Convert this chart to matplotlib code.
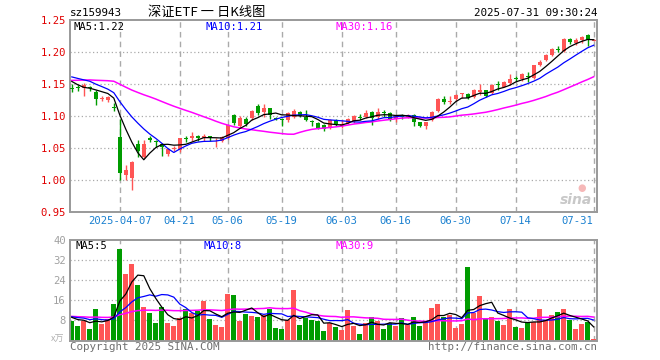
import matplotlib
matplotlib.use("Agg")
import matplotlib.pyplot as plt
import numpy as np
import pandas as pd

# ---------------- data ----------------
holidays = ["2025-04-04", "2025-05-01", "2025-05-02", "2025-05-05", "2025-06-02"]
dates = [d for d in pd.bdate_range("2025-03-25", "2025-07-31") if d.strftime("%Y-%m-%d") not in holidays]

open_ = [1.143, 1.146, 1.144, 1.145, 1.138, 1.127, 1.125, 1.114, 1.067, 1.008,
         1.003, 1.057, 1.036, 1.065, 1.060, 1.056, 1.040, 1.049, 1.047, 1.065,
         1.066, 1.068, 1.065, 1.068, 1.062, 1.061, 1.066, 1.102, 1.084, 1.096,
         1.097, 1.115, 1.107, 1.112, 1.097, 1.096, 1.093, 1.099, 1.106, 1.099,
         1.092, 1.089, 1.086, 1.081, 1.093, 1.085, 1.089, 1.092, 1.099, 1.099,
         1.106, 1.098, 1.106, 1.105, 1.095, 1.101, 1.098, 1.102, 1.090, 1.085,
         1.094, 1.108, 1.127, 1.122, 1.127, 1.134, 1.135, 1.130, 1.137, 1.140,
         1.136, 1.150, 1.146, 1.152, 1.160, 1.158, 1.163, 1.160, 1.180, 1.188,
         1.196, 1.205, 1.201, 1.221, 1.214, 1.219, 1.227, 1.218]
high = [1.150, 1.148, 1.151, 1.147, 1.140, 1.131, 1.132, 1.121, 1.095, 1.023,
        1.030, 1.063, 1.063, 1.068, 1.062, 1.058, 1.050, 1.053, 1.066, 1.068,
        1.075, 1.071, 1.072, 1.069, 1.065, 1.068, 1.087, 1.103, 1.100, 1.098,
        1.109, 1.118, 1.119, 1.113, 1.098, 1.097, 1.107, 1.111, 1.108, 1.110,
        1.093, 1.090, 1.088, 1.095, 1.095, 1.094, 1.097, 1.101, 1.103, 1.109,
        1.108, 1.112, 1.109, 1.107, 1.101, 1.103, 1.103, 1.103, 1.091, 1.091,
        1.108, 1.128, 1.131, 1.131, 1.134, 1.136, 1.136, 1.142, 1.150, 1.141,
        1.150, 1.155, 1.155, 1.166, 1.162, 1.167, 1.168, 1.180, 1.188, 1.197,
        1.206, 1.209, 1.222, 1.222, 1.222, 1.225, 1.228, 1.220]
low = [1.137, 1.139, 1.131, 1.139, 1.117, 1.124, 1.122, 1.108, 1.000, 1.000,
       0.984, 1.036, 1.034, 1.060, 1.052, 1.037, 1.038, 1.046, 1.043, 1.060,
       1.061, 1.061, 1.061, 1.061, 1.052, 1.059, 1.064, 1.086, 1.082, 1.085,
       1.094, 1.102, 1.099, 1.095, 1.093, 1.085, 1.091, 1.097, 1.099, 1.092,
       1.084, 1.080, 1.076, 1.079, 1.085, 1.081, 1.087, 1.089, 1.094, 1.097,
       1.086, 1.096, 1.099, 1.092, 1.091, 1.096, 1.097, 1.085, 1.083, 1.079,
       1.092, 1.106, 1.118, 1.118, 1.123, 1.128, 1.126, 1.128, 1.133, 1.129,
       1.134, 1.141, 1.145, 1.149, 1.155, 1.155, 1.153, 1.158, 1.178, 1.186,
       1.193, 1.200, 1.200, 1.213, 1.211, 1.214, 1.209, 1.217]
close = [1.142, 1.144, 1.148, 1.143, 1.127, 1.128, 1.130, 1.112, 1.011, 1.016,
         1.028, 1.046, 1.057, 1.063, 1.059, 1.052, 1.048, 1.050, 1.065, 1.064,
         1.069, 1.065, 1.068, 1.065, 1.063, 1.067, 1.086, 1.089, 1.097, 1.088,
         1.108, 1.105, 1.113, 1.102, 1.095, 1.094, 1.104, 1.108, 1.100, 1.093,
         1.090, 1.082, 1.080, 1.093, 1.088, 1.087, 1.095, 1.100, 1.097, 1.105,
         1.097, 1.107, 1.104, 1.096, 1.100, 1.099, 1.102, 1.090, 1.085, 1.090,
         1.107, 1.127, 1.122, 1.123, 1.133, 1.135, 1.128, 1.141, 1.141, 1.132,
         1.149, 1.148, 1.153, 1.158, 1.158, 1.165, 1.161, 1.179, 1.185, 1.196,
         1.205, 1.203, 1.221, 1.216, 1.219, 1.224, 1.218, 1.219]
volume = [7.9, 5.7, 7.9, 4.5, 12.5, 6.5, 8.4, 14.5, 36.5, 26.5,
          30.5, 22.1, 13.3, 10.9, 6.9, 13.3, 6.9, 5.7, 8.9, 12.5,
          10.8, 11.7, 15.7, 8.5, 6.1, 5.3, 18.7, 18.1, 7.7, 10.5,
          9.7, 9.3, 10.1, 12.5, 4.9, 4.5, 8.1, 20.1, 6.1, 8.9,
          8.1, 7.7, 3.7, 6.9, 5.3, 4.1, 12.1, 5.7, 2.5, 6.9,
          9.3, 7.7, 4.5, 6.9, 5.7, 8.9, 6.1, 9.3, 5.7, 7.3,
          12.9, 14.5, 9.3, 10.1, 4.9, 6.5, 29.3, 10.9, 17.7, 8.9,
          9.3, 7.9, 6.1, 12.5, 5.3, 4.9, 6.9, 7.3, 12.5, 8.0,
          10.1, 11.3, 12.5, 8.0, 4.5, 6.5, 7.5, 0.5]
# sessions before 2025-03-25 (needed only for the moving averages at the left edge)
prev_close = [1.138, 1.140, 1.136, 1.142, 1.139, 1.141, 1.137, 1.150, 1.156, 1.162,
              1.158, 1.165, 1.160, 1.163, 1.167, 1.161, 1.158, 1.164, 1.160, 1.162,
              1.168, 1.170, 1.165, 1.172, 1.166, 1.170, 1.168, 1.150, 1.140]
prev_volume = [9.5, 10.2, 8.8, 9.9, 10.4, 9.1, 9.7, 9.3, 10.1, 9.6,
               9.8, 9.2, 10.3, 9.4, 9.9, 9.0, 10.0, 9.6, 9.5, 10.2,
               9.3, 9.8, 10.5, 9.4, 9.6, 10.1, 9.2, 9.4, 9.4]
tick_idx = [8, 18, 26, 35, 45, 54, 64, 74, 87]
tick_labels = ["2025-04-07", "04-21", "05-06", "05-19", "06-03", "06-16", "06-30", "07-14", "07-31"]

# ---------------- derived ----------------
n = len(close)
x = np.arange(n)
full_c = pd.Series(prev_close + close)
full_v = pd.Series(prev_volume + volume)
p = len(prev_close)
ma = {k: full_c.rolling(k).mean().iloc[p:].values for k in (5, 10, 30)}
vma = {k: full_v.rolling(k).mean().iloc[p:].values for k in (5, 10, 30)}

UP = "#ff5555"
DOWN = "#009c00"
GRID = "#aaaaaa"
FRAME = "#999999"
MONO = "DejaVu Sans Mono"
plt.rcParams["font.family"] = [MONO, "Noto Sans CJK SC"]

W, H = 660, 360
fig = plt.figure(figsize=(6.6, 3.6), dpi=100)
fig.patch.set_facecolor("white")

def fx(px):
    return px / W

def fy(py):
    return 1 - py / H

ax = fig.add_axes([fx(70), fy(212), fx(527), 192 / H])
axv = fig.add_axes([fx(70), fy(340.5), fx(527), 100.5 / H])

xl = (-0.3, 87.55)
for a in (ax, axv):
    a.set_xlim(*xl)
    for s in a.spines.values():
        s.set_color(FRAME)
        s.set_linewidth(1.4)
    a.tick_params(length=0)
    for t in tick_idx:
        a.axvline(t, color=GRID, lw=1.0, ls=(0, (4, 3)), zorder=0)

# ---- price panel ----
ax.set_ylim(0.95, 1.25)
yt = [0.95, 1.00, 1.05, 1.10, 1.15, 1.20, 1.25]
ax.set_yticks(yt)
ax.set_yticklabels([f"{v:.2f}" for v in yt], color="#e00000", fontsize=7.6, family=MONO)
for v in yt[1:-1]:
    ax.axhline(v, color=GRID, lw=0.9, ls=(0, (1, 2)), zorder=0)
ax.set_xticks(tick_idx)
ax.set_xticklabels(tick_labels, color="#1a80d0", fontsize=7.6, family=MONO)
ax.get_xticklabels()[-1].set_horizontalalignment("right")
ax.tick_params(axis="x", pad=3)
ax.tick_params(axis="y", pad=3)

for i in range(n):
    o, h, l, c = open_[i], high[i], low[i], close[i]
    col = UP if c >= o else DOWN
    ax.vlines(x[i], l, h, color=col, lw=1.0, zorder=2)
    body = max(abs(c - o), 0.0014)
    ax.bar(x[i], body, bottom=min(o, c) if abs(c - o) >= 0.0014 else (o + c) / 2 - 0.0007,
           width=0.68, color=col, edgecolor=col, lw=0, zorder=3)

ax.plot(x, ma[30], color="#ff00ff", lw=1.1, zorder=4)
ax.plot(x, ma[10], color="#0000ff", lw=0.9, zorder=4)
ax.plot(x, ma[5], color="black", lw=0.9, zorder=5)

ax.text(fx(74), fy(27), f"MA5:{ma[5][-1]:.2f}", transform=fig.transFigure, color="black",
        fontsize=7.6, va="center", ha="left")
ax.text(fx(205), fy(27), f"MA10:{ma[10][-1]:.2f}", transform=fig.transFigure, color="#0000ff",
        fontsize=7.6, va="center", ha="left")
ax.text(fx(335), fy(27), f"MA30:{ma[30][-1]:.2f}", transform=fig.transFigure, color="#ff00ff",
        fontsize=7.6, va="center", ha="left")

# sina watermark
fig.text(fx(576), fy(200), "sina", color="#c8c8c8", fontsize=10, fontweight="bold",
         style="italic", ha="center", va="center", family="DejaVu Sans")
fig.text(fx(582), fy(188), "●", color="#f6b8b8", fontsize=7, ha="center", va="center",
         family="DejaVu Sans")

# ---- volume panel ----
axv.set_ylim(0, 40)
vt = [8, 16, 24, 32, 40]
axv.set_yticks(vt)
axv.set_yticklabels([str(v) for v in vt], color="#a0a0a0", fontsize=7.6, family=MONO)
axv.tick_params(axis="y", pad=3)
for v in vt[:-1]:
    axv.axhline(v, color=GRID, lw=0.9, ls=(0, (1, 2)), zorder=0)
axv.set_xticks([])
vcol = [UP if close[i] >= open_[i] else DOWN for i in range(n)]
axv.bar(x, volume, width=0.8, color=vcol, lw=0, zorder=2)
axv.plot(x, vma[30], color="#ff00ff", lw=1.1, zorder=4)
axv.plot(x, vma[10], color="#0000ff", lw=0.9, zorder=4)
axv.plot(x, vma[5], color="black", lw=0.9, zorder=5)

fig.text(fx(75), fy(246), f"MA5:{vma[5][-1]:.0f}", color="black", fontsize=7.6, va="center")
fig.text(fx(204), fy(246), f"MA10:{vma[10][-1]:.0f}", color="#0000ff", fontsize=7.6, va="center")
fig.text(fx(335), fy(246), f"MA30:{vma[30][-1]:.0f}", color="#ff00ff", fontsize=7.6, va="center")
fig.text(fx(64), fy(339), "x万", color="#b0b0b0", fontsize=6.5, ha="right", va="center",
         family=["Noto Sans CJK SC", MONO])

# ---- header / footer ----
fig.text(fx(70), fy(12.5), "sz159943", color="black", fontsize=7.8, va="center", ha="left")
fig.text(fx(148), fy(12), "深证ETF 一 日K线图", color="black", fontsize=9.5, va="center",
         ha="left", family=["Noto Sans CJK SC", MONO])
fig.text(fx(598), fy(12.5), "2025-07-31 09:30:24", color="black", fontsize=7.8, va="center",
         ha="right")
fig.text(fx(70), fy(347.5), "Copyright 2025 SINA.COM", color="#707070", fontsize=7.8,
         va="center", ha="left")
fig.text(fx(597), fy(347.5), "http://finance.sina.com.cn", color="#707070", fontsize=7.8,
         va="center", ha="right")

fig.savefig("out.png", dpi=100)
